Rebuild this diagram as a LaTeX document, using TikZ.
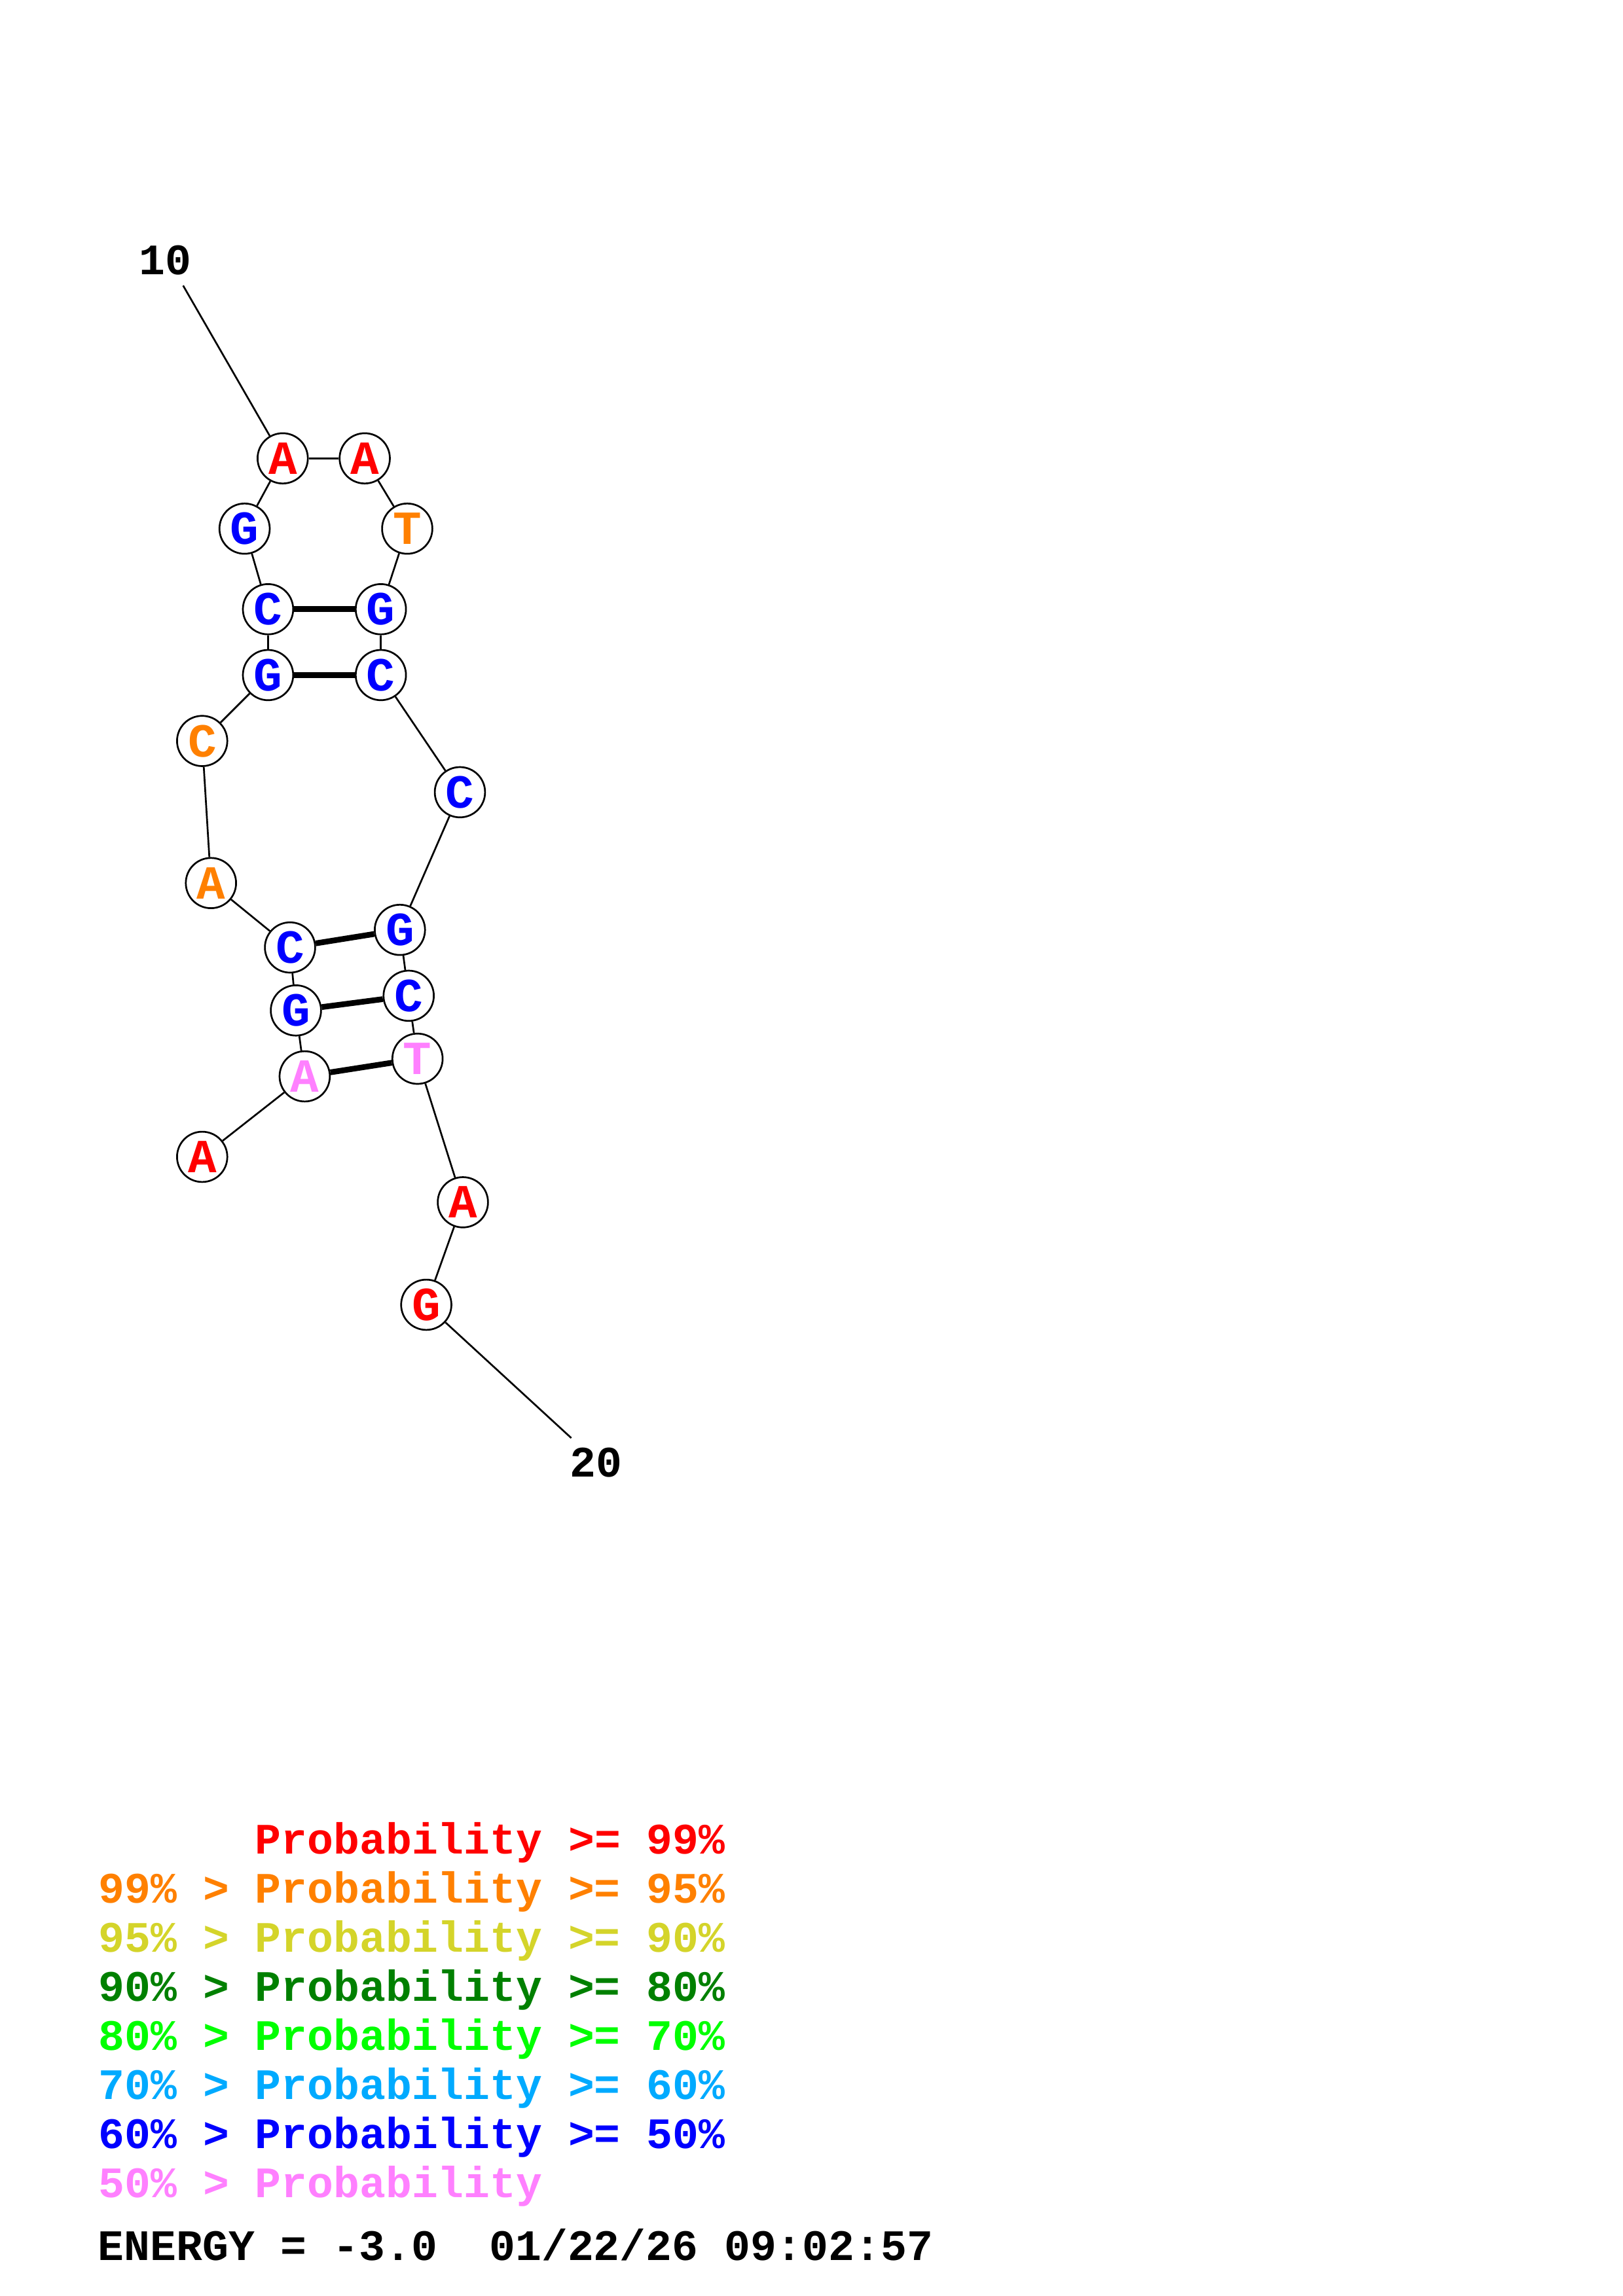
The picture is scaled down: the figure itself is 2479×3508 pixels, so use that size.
\documentclass[tikz,border=0pt]{standalone}
\usepackage{fontspec}
\setmonofont{Liberation Mono}
\definecolor{pr99}{RGB}{255,0,0}
\definecolor{pr95}{RGB}{255,128,0}
\definecolor{pr90}{RGB}{212,212,42}
\definecolor{pr80}{RGB}{0,128,0}
\definecolor{pr70}{RGB}{0,255,0}
\definecolor{pr60}{RGB}{0,170,255}
\definecolor{pr50}{RGB}{0,0,255}
\definecolor{prlo}{RGB}{255,128,255}
\tikzset{
  nt/.style={circle, draw=black, line width=0.65pt, fill=white, minimum size=18.5pt, inner sep=0pt,
    font=\fontsize{17.5}{17.5}\selectfont\ttfamily\bfseries},
  bb/.style={line width=0.65pt, black},
  bp/.style={line width=2.1pt, black},
  lbl/.style={font=\fontsize{16}{16}\selectfont\ttfamily\bfseries, inner sep=0pt, anchor=base},
  leg/.style={font=\fontsize{16}{16}\selectfont\ttfamily\bfseries, inner sep=0pt, anchor=base west},
}
\begin{document}
\begin{tikzpicture}[x=0.24091pt, y=-0.24091pt]
\useasboundingbox (0,0) rectangle (2479,3508);
% free ends
\coordinate (e10) at (279.7,436.3);
\coordinate (e20) at (872.6,2197.1);
\node[lbl] (l10) at (252.8,419) {10};
\node[lbl] (l20) at (910.6,2256) {20};
% nucleotides
\node[nt, text=pr99] (a1) at (431.8,700.3) {A};
\node[nt, text=pr99] (a2) at (557.1,700.3) {A};
\node[nt, text=pr50] (g1) at (373.6,807.7) {G};
\node[nt, text=pr95] (t1) at (622.0,807.7) {T};
\node[nt, text=pr50] (c1) at (409.4,930.8) {C};
\node[nt, text=pr50] (g2) at (581.7,930.8) {G};
\node[nt, text=pr50] (g3) at (409.4,1031.4) {G};
\node[nt, text=pr50] (c2) at (581.7,1031.4) {C};
\node[nt, text=pr95] (c3) at (308.8,1132.1) {C};
\node[nt, text=pr50] (c4) at (702.5,1210.4) {C};
\node[nt, text=pr95] (a3) at (322.2,1349.2) {A};
\node[nt, text=pr50] (c5) at (443.0,1447.6) {C};
\node[nt, text=pr50] (g4) at (610.8,1420.7) {G};
\node[nt, text=pr50] (g5) at (452.0,1543.8) {G};
\node[nt, text=pr50] (c6) at (624.2,1521.4) {C};
\node[nt, text=prlo] (a4) at (465.4,1644.5) {A};
\node[nt, text=prlo] (t2) at (637.7,1617.6) {T};
\node[nt, text=pr99] (a5) at (308.8,1767.5) {A};
\node[nt, text=pr99] (a6) at (707.0,1836.9) {A};
\node[nt, text=pr99] (g6) at (651.1,1993.5) {G};
% backbone
\draw[bb] (e10) -- (a1);
\draw[bb] (a1) -- (a2);
\draw[bb] (a1) -- (g1);
\draw[bb] (g1) -- (c1);
\draw[bb] (c1) -- (g3);
\draw[bb] (g3) -- (c3);
\draw[bb] (c3) -- (a3);
\draw[bb] (a3) -- (c5);
\draw[bb] (c5) -- (g5);
\draw[bb] (g5) -- (a4);
\draw[bb] (a4) -- (a5);
\draw[bb] (a2) -- (t1);
\draw[bb] (t1) -- (g2);
\draw[bb] (g2) -- (c2);
\draw[bb] (c2) -- (c4);
\draw[bb] (c4) -- (g4);
\draw[bb] (g4) -- (c6);
\draw[bb] (c6) -- (t2);
\draw[bb] (t2) -- (a6);
\draw[bb] (a6) -- (g6);
\draw[bb] (g6) -- (e20);
% base pairs
\draw[bp] (c1) -- (g2);
\draw[bp] (g3) -- (c2);
\draw[bp] (c5) -- (g4);
\draw[bp] (g5) -- (c6);
\draw[bp] (a4) -- (t2);
% legend
\node[leg, text=pr99] (k1) at (150,2832) {\hphantom{99\% > }Probability >= 99\%};
\node[leg, text=pr95] (k2) at (150,2907) {99\% > Probability >= 95\%};
\node[leg, text=pr90] (k3) at (150,2982) {95\% > Probability >= 90\%};
\node[leg, text=pr80] (k4) at (150,3057) {90\% > Probability >= 80\%};
\node[leg, text=pr70] (k5) at (150,3132) {80\% > Probability >= 70\%};
\node[leg, text=pr60] (k6) at (150,3207) {70\% > Probability >= 60\%};
\node[leg, text=pr50] (k7) at (150,3282) {60\% > Probability >= 50\%};
\node[leg, text=prlo] (k8) at (150,3357) {50\% > Probability};
\node[leg, text=black] (en) at (149,3453) {ENERGY = -3.0\ \ 01/22/26 09:02:57};
\end{tikzpicture}
\end{document}
